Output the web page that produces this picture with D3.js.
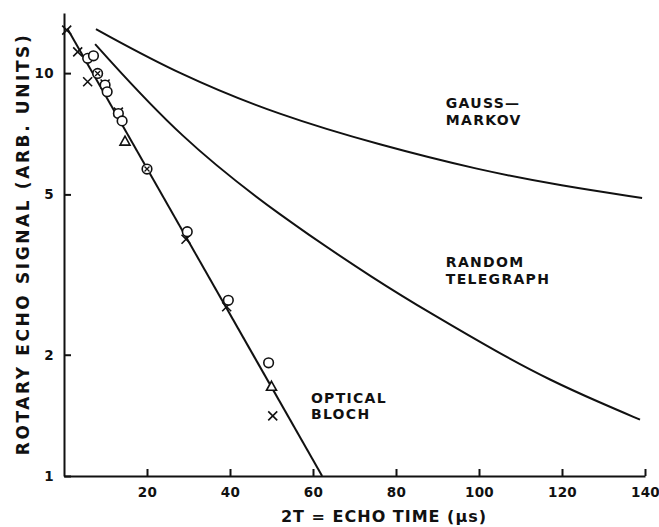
<!DOCTYPE html>
<html>
<head>
<meta charset="utf-8">
<script src="https://cdn.jsdelivr.net/npm/d3@7"></script>
<style>
  body { margin: 0; background: #fff; }
  text { font-family: "DejaVu Sans", sans-serif; fill: #111; font-weight: bold; }
  .axis path, .axis line { stroke: #111; stroke-width: 2; }
  .axis text { font-size: 13.5px; letter-spacing: 0.3px; }
</style>
</head>
<body>
<div id="chart"></div>
<script>
var W = 659, H = 527;

// curves: [echo time (us), signal]
var gaussMarkov = [[7.7, 12.86], [28, 9.89], [52, 7.85], [76.1, 6.63], [100.2, 5.74], [120, 5.25], [139.3, 4.90]];
var randomTelegraph = [[7.5, 11.8], [28, 6.9], [52, 4.42], [76.1, 3.02], [88.2, 2.54], [105.1, 2.01], [117.1, 1.73], [129.2, 1.52], [138.8, 1.38]];
var opticalBloch = [[0.8, 12.9], [62.2, 1.0]];

// measured points
var circles = [[5.7, 10.88], [7.1, 11.04], [9.9, 9.34], [10.4, 8.99], [13.1, 7.94], [14.0, 7.61], [29.7, 4.04], [39.6, 2.73], [49.3, 1.91]];
var crosses = [[0.65, 12.79], [3.3, 11.29], [5.7, 9.52], [9.9, 9.4], [13.1, 8.0], [29.4, 3.87], [39.2, 2.63], [50.3, 1.41]];
var triangles = [[14.7, 6.78], [50.0, 1.67]];
var circleCross = [[8.1, 9.98], [20.0, 5.78]];

var xTicks = [20, 40, 60, 80, 100, 120, 140];
var yTicks = [1, 2, 5, 10];

var labels = [
  {lines: ["GAUSS\u2014", "MARKOV"], t: 92, v: 8.19},
  {lines: ["RANDOM", "TELEGRAPH"], t: 92, v: 3.3},
  {lines: ["OPTICAL", "BLOCH"], t: 59.5, v: 1.52}
];

var svg = d3.select("#chart").append("svg")
  .attr("width", W).attr("height", H);

var x = d3.scaleLinear().domain([0, 140]).range([64, 645]);
var y = d3.scaleLog().domain([1, 14.1]).range([476, 13]);

// axes, ticks point inward
svg.append("g")
  .attr("class", "axis")
  .attr("transform", "translate(0,476)")
  .call(d3.axisBottom(x).tickValues(xTicks).tickSize(-7).tickSizeOuter(0).tickPadding(11).tickFormat(d3.format("d")));

svg.append("g")
  .attr("class", "axis")
  .attr("transform", "translate(64,0)")
  .call(d3.axisLeft(y).tickValues(yTicks).tickSize(-7).tickSizeOuter(0).tickPadding(10).tickFormat(d3.format("d")));

svg.selectAll(".axis .domain").attr("fill", "none");

// axis titles
svg.append("text")
  .attr("x", 384).attr("y", 522)
  .attr("text-anchor", "middle")
  .style("font-size", "16px")
  .style("letter-spacing", "1px")
  .text("2T = ECHO TIME (\u03bcs)");

svg.append("text")
  .attr("transform", "translate(29,244) rotate(-90)")
  .attr("text-anchor", "middle")
  .style("font-size", "17px")
  .style("letter-spacing", "2.6px")
  .text("ROTARY ECHO SIGNAL (ARB. UNITS)");

// curves
var line = d3.line()
  .x(function (d) { return x(d[0]); })
  .y(function (d) { return y(d[1]); })
  .curve(d3.curveBasis);

[gaussMarkov, randomTelegraph, opticalBloch].forEach(function (s) {
  svg.append("path")
    .datum(s)
    .attr("d", line)
    .attr("fill", "none")
    .attr("stroke", "#111")
    .attr("stroke-width", 2);
});

// markers
var mk = svg.append("g").attr("stroke", "#111").attr("stroke-width", 1.6);

mk.selectAll(".cross").data(crosses).enter().append("path")
  .attr("class", "cross")
  .attr("transform", function (d) { return "translate(" + x(d[0]) + "," + y(d[1]) + ")"; })
  .attr("d", "M-4.5,-4.5L4.5,4.5M-4.5,4.5L4.5,-4.5");

mk.selectAll(".circ").data(circles).enter().append("circle")
  .attr("class", "circ")
  .attr("cx", function (d) { return x(d[0]); })
  .attr("cy", function (d) { return y(d[1]); })
  .attr("r", 4.8)
  .attr("fill", "#fff");

mk.selectAll(".tri").data(triangles).enter().append("path")
  .attr("class", "tri")
  .attr("transform", function (d) { return "translate(" + x(d[0]) + "," + y(d[1]) + ")"; })
  .attr("d", "M0,-5L5,4L-5,4Z")
  .attr("fill", "#fff");

var cc = mk.selectAll(".cc").data(circleCross).enter().append("g")
  .attr("transform", function (d) { return "translate(" + x(d[0]) + "," + y(d[1]) + ")"; });
cc.append("circle").attr("r", 4.8).attr("fill", "#fff");
cc.append("path").attr("d", "M-2.5,-2.5L2.5,2.5M-2.5,2.5L2.5,-2.5").attr("stroke-width", 1.3);

// curve labels
labels.forEach(function (l) {
  var t = svg.append("text")
    .attr("x", x(l.t)).attr("y", y(l.v))
    .style("font-size", "14px")
    .style("letter-spacing", "1.3px");
  l.lines.forEach(function (s, i) {
    t.append("tspan").attr("x", x(l.t)).attr("dy", i === 0 ? 0 : 16.5).text(s);
  });
});
</script>
</body>
</html>
